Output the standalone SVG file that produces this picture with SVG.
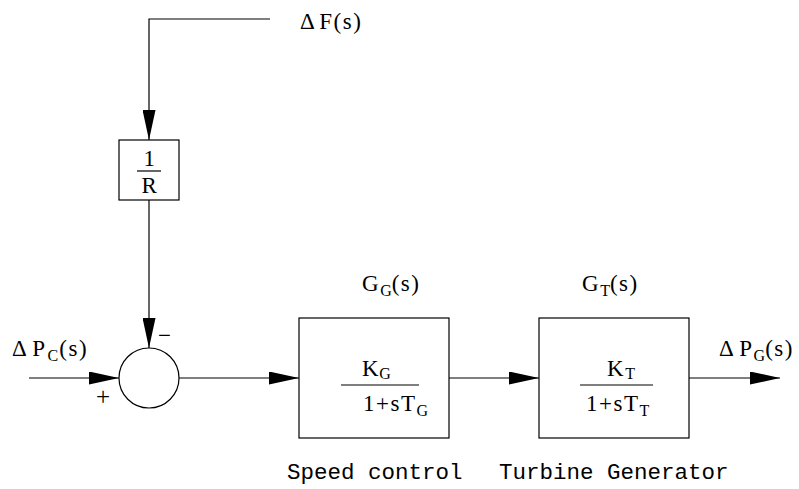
<svg xmlns="http://www.w3.org/2000/svg" width="799" height="489" viewBox="0 0 799 489">
<defs>
<marker id="ah" markerWidth="30" markerHeight="13" refX="30" refY="6.5" orient="auto" markerUnits="userSpaceOnUse">
<path d="M0,0 L30,6.5 L0,13 Z" fill="#000"/>
</marker>
</defs>
<style>
.ln{fill:none;stroke:#000;stroke-width:1.2}
.bx{fill:#fff;stroke:#000;stroke-width:1.2}
.m{font-family:"Liberation Serif","DejaVu Serif",serif;font-size:23px;letter-spacing:1.5px;fill:#000}
.sub{font-size:16px;letter-spacing:0}
.mono{font-family:"Liberation Mono","DejaVu Sans Mono",monospace;font-size:22.5px;fill:#000}
</style>
<rect width="799" height="489" fill="#fff"/>
<g id="connectors">
<path class="ln" d="M270,19 H149 V140" marker-end="url(#ah)"/>
<path class="ln" d="M149,200 V348" marker-end="url(#ah)"/>
<path class="ln" d="M29,378 H119" marker-end="url(#ah)"/>
<path class="ln" d="M179,378 H299" marker-end="url(#ah)"/>
<path class="ln" d="M449,378 H539" marker-end="url(#ah)"/>
<path class="ln" d="M689,378 H780" marker-end="url(#ah)"/>
</g>
<g id="input-dF">
<text class="m" x="300" y="29">Δ<tspan dx="3">F(s)</tspan></text>
</g>
<g id="block-R">
<rect class="bx" x="119" y="140" width="60" height="60"/>
<text class="m" x="150" y="166" text-anchor="middle">1</text>
<line class="ln" x1="137" y1="171" x2="161" y2="171"/>
<text class="m" x="150" y="193" text-anchor="middle">R</text>
</g>
<g id="summer">
<circle class="bx" cx="149" cy="378" r="30"/>
<text class="m" x="158" y="343">−</text>
<text class="m" x="96" y="405" style="font-size:25px">+</text>
</g>
<g id="input-dPc">
<text class="m" x="12" y="356">Δ<tspan dx="4">P</tspan><tspan class="sub" dy="5" dx="1">C</tspan><tspan dy="-5" dx="1">(s)</tspan></text>
</g>
<g id="block-G">
<rect class="bx" x="299" y="318" width="150" height="120"/>
<text class="m" x="362" y="291">G<tspan class="sub" dy="5">G</tspan><tspan dy="-5">(s)</tspan></text>
<text class="m" x="362" y="376">K<tspan class="sub" dy="3" dx="-1">G</tspan></text>
<line class="ln" x1="341" y1="385" x2="419" y2="385"/>
<text class="m" x="363" y="411">1+sT<tspan class="sub" dy="5">G</tspan></text>
</g>
<g id="block-T">
<rect class="bx" x="539" y="318" width="150" height="120"/>
<text class="m" x="582" y="291">G<tspan class="sub" dy="5">T</tspan><tspan dy="-5">(s)</tspan></text>
<text class="m" x="607" y="376">K<tspan class="sub" dy="3">T</tspan></text>
<line class="ln" x1="580" y1="385" x2="653" y2="385"/>
<text class="m" x="586" y="411">1+sT<tspan class="sub" dy="5">T</tspan></text>
</g>
<g id="output-dPg">
<text class="m" x="719" y="356">Δ<tspan dx="4">P</tspan><tspan class="sub" dy="5">G</tspan><tspan dy="-5">(s)</tspan></text>
</g>
<g id="labels">
<text class="mono" x="287" y="479">Speed control</text>
<text class="mono" x="499" y="479">Turbine Generator</text>
</g>
</svg>
